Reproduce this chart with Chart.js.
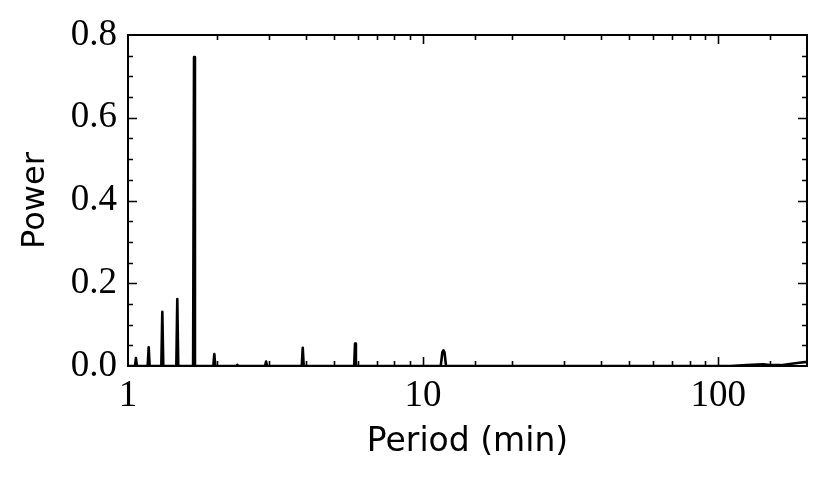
<!DOCTYPE html>
<html>
<head>
<meta charset="utf-8">
<script src="https://cdn.jsdelivr.net/npm/chart.js@4.4.1/dist/chart.umd.min.js"></script>
<style>
  html,body{margin:0;padding:0;background:#fff;}
  canvas{display:block;}
</style>
</head>
<body>
<canvas id="myChart" width="830" height="486"></canvas>
<script>
// periodogram: period (min) and power
var periods = [1.0, 1.056, 1.064, 1.072, 1.166, 1.175, 1.184, 1.297, 1.307, 1.317,
  1.458, 1.469, 1.480, 1.662, 1.674, 1.686, 1.946, 1.961, 1.976, 2.330, 2.347, 2.364,
  2.915, 2.937, 2.960, 3.880, 3.910, 3.940, 5.840, 5.880, 5.920, 11.48, 11.62, 11.72,
  11.82, 11.96, 110, 125, 142, 152, 163, 175, 188, 200];
var powers = [0, 0, 0.019, 0, 0, 0.045, 0, 0, 0.131, 0,
  0, 0.162, 0, 0, 0.747, 0, 0, 0.029, 0, 0, 0.003, 0,
  0, 0.011, 0, 0, 0.044, 0, 0, 0.054, 0, 0, 0.033, 0.038,
  0.033, 0, 0, 0.002, 0.004, 0.002, 0.002, 0.005, 0.008, 0.010];

var xTickLabels = [1, 10, 100];
var yTickLabels = [0.0, 0.2, 0.4, 0.6, 0.8];

var points = [];
for (var i = 0; i < periods.length; i++) {
  points.push({x: periods[i], y: powers[i]});
}

// inward ticks on all four sides, like the matplotlib original
var tickPlugin = {
  id: 'inTicks',
  afterDraw: function(chart) {
    var ctx = chart.ctx;
    var a = chart.chartArea;
    var xs = chart.scales.x;
    var ys = chart.scales.y;
    ctx.save();
    ctx.strokeStyle = '#000';
    ctx.lineWidth = 1.6;
    ctx.beginPath();
    xs.ticks.forEach(function(t) {
      var lg = Math.log10(t.value);
      var len = Math.abs(lg - Math.round(lg)) < 1e-6 ? 9 : 5;
      var px = Math.round(xs.getPixelForValue(t.value)) + 0.5;
      if (px < a.left + 1 || px > a.right - 1) return;
      ctx.moveTo(px, a.bottom); ctx.lineTo(px, a.bottom - len);
      ctx.moveTo(px, a.top); ctx.lineTo(px, a.top + len);
    });
    for (var v = 0.05; v < 0.8; v += 0.05) {
      var major = Math.abs(v / 0.2 - Math.round(v / 0.2)) < 1e-6;
      var len2 = major ? 9 : 5;
      var py = Math.round(ys.getPixelForValue(v)) + 0.5;
      ctx.moveTo(a.left, py); ctx.lineTo(a.left + len2, py);
      ctx.moveTo(a.right, py); ctx.lineTo(a.right - len2, py);
    }
    ctx.stroke();
    ctx.lineWidth = 2;
    ctx.strokeRect(a.left, a.top, a.right - a.left, a.bottom - a.top);
    ctx.restore();
  }
};

var ctx = document.getElementById('myChart');
var chart = new Chart(ctx, {
  type: 'line',
  data: {
    datasets: [{
      data: points,
      borderColor: '#000',
      borderWidth: 2.6,
      borderJoinStyle: 'round',
      borderCapStyle: 'round',
      pointRadius: 0,
      tension: 0,
      fill: false
    }]
  },
  options: {
    responsive: false,
    animation: false,
    devicePixelRatio: 1,
    layout: {padding: {top: 35, right: 23, left: 0, bottom: 0}},
    plugins: {legend: {display: false}, tooltip: {enabled: false}},
    scales: {
      x: {
        type: 'logarithmic',
        min: 1,
        max: 200,
        grid: {display: false, drawTicks: false},
        border: {display: true, color: '#000', width: 2},
        ticks: {
          color: '#000',
          padding: 8,
          maxRotation: 0,
          autoSkip: false,
          font: {family: 'Liberation Serif', size: 37},
          callback: function(value) {
            return xTickLabels.indexOf(value) >= 0 ? String(value) : '';
          }
        },
        title: {
          display: true,
          text: 'Period (min)',
          color: '#000',
          font: {family: 'DejaVu Sans', size: 33},
          padding: {top: 0, bottom: 24}
        },
        afterFit: function(scale) { scale.height = 120; }
      },
      y: {
        min: 0,
        max: 0.8,
        grid: {display: false, drawTicks: false},
        border: {display: true, color: '#000', width: 2},
        ticks: {
          color: '#000',
          padding: 11,
          stepSize: 0.2,
          font: {family: 'Liberation Serif', size: 37},
          callback: function(value) {
            for (var k = 0; k < yTickLabels.length; k++) {
              if (Math.abs(yTickLabels[k] - value) < 1e-6) return yTickLabels[k].toFixed(1);
            }
            return '';
          }
        },
        title: {
          display: true,
          text: 'Power',
          color: '#000',
          font: {family: 'DejaVu Sans', size: 32},
          padding: {top: 16, bottom: 0}
        },
        afterFit: function(scale) { scale.width = 128; }
      }
    }
  },
  plugins: [tickPlugin]
});
</script>
</body>
</html>
